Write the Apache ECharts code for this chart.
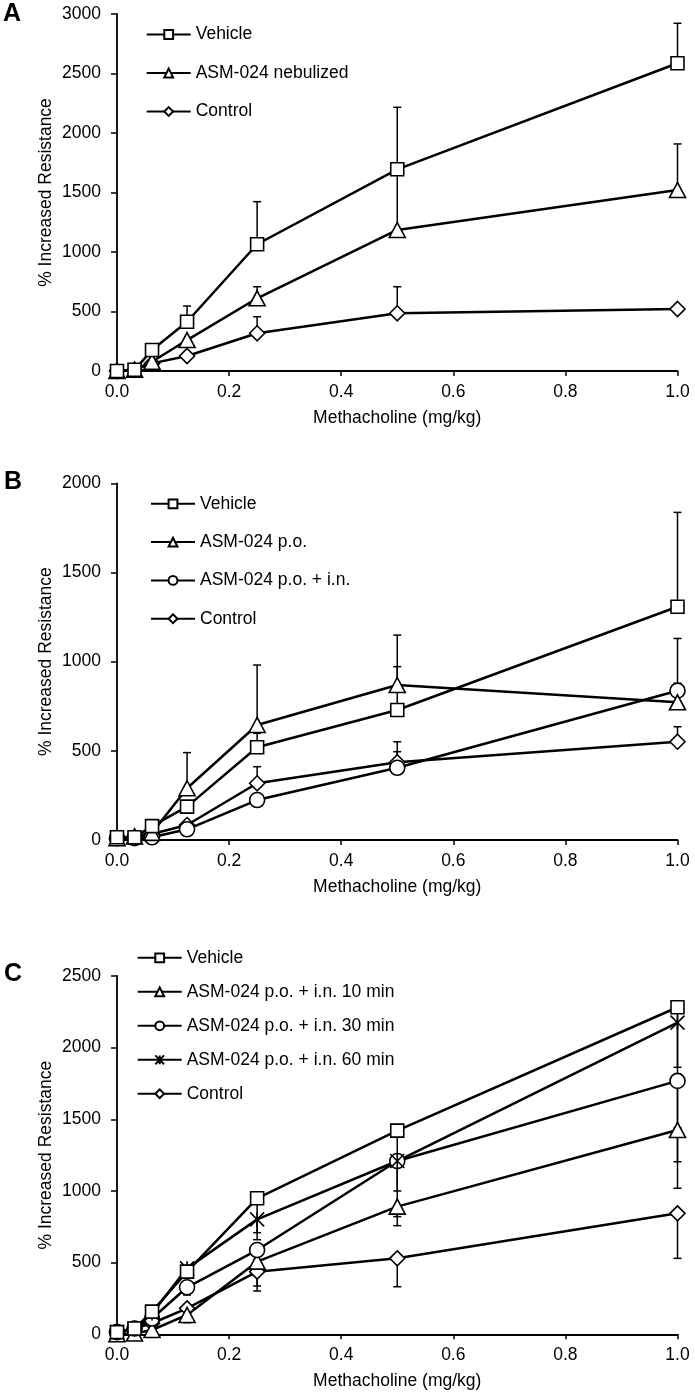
<!DOCTYPE html>
<html>
<head>
<meta charset="utf-8">
<script src="https://cdn.jsdelivr.net/npm/echarts@6/dist/echarts.min.js"></script>
<style>
html,body{margin:0;padding:0;background:#fff;}
#chart{width:695px;height:1399px;}
</style>
</head>
<body>
<div id="chart"></div>
<script>
// Methacholine doses (mg/kg)
const doses = [0, 0.03125, 0.0625, 0.125, 0.25, 0.5, 1.0];

// Panel A
const namesA = ['Vehicle', 'ASM-024 nebulized', 'Control'];
const vehicleA = [0, 10, 176, 414, 1065, 1695, 2586];
const vehicleA_err = [null, null, null, 546, 1423, 2216, 2922];
const nebulizedA = [0, 10, 78, 260, 611, 1185, 1521];
const nebulizedA_err = [null, null, null, null, 708, 1680, 1908];
const controlA = [0, 10, 64, 126, 317, 485, 521];
const controlA_err = [null, null, null, null, 456, 708, null];

// Panel B
const namesB = ['Vehicle', 'ASM-024 p.o.', 'ASM-024 p.o. + i.n.', 'Control'];
const vehicleB = [15, 15, 78, 187, 520, 729, 1308];
const vehicleB_err = [null, null, null, null, 598, 972, 1837];
const poB = [10, 20, 40, 290, 645, 869, 772];
const poB_err = [null, null, null, 490, 981, 1149, 879];
const poinB = [10, 10, 15, 60, 224, 405, 837];
const poinB_err = [null, null, null, null, null, 495, 1130];
const controlB = [10, 15, 34, 84, 318, 436, 551];
const controlB_err = [null, null, null, null, 411, 551, 635];

// Panel C
const namesC = ['Vehicle', 'ASM-024 p.o. + i.n. 10 min', 'ASM-024 p.o. + i.n. 30 min', 'ASM-024 p.o. + i.n. 60 min', 'Control'];
const vehicleC = [15, 40, 158, 437, 949, 1421, 2282];
const vehicleC_err = [null, null, null, null, 709, 1230, 1863];
const min10C = [0, 5, 30, 135, 507, 891, 1426];
const min10C_err = [null, null, null, 81, 337, 758, 1019];
const min30C = [15, 40, 110, 328, 588, 1209, 1768];
const min30C_err = [null, null, null, 274, 520, 1000, 1440];
const min60C = [15, 40, 146, 460, 802, 1209, 2175];
const min60C_err = [null, null, null, null, 660, 821, 1204];
const controlC = [15, 40, 77, 181, 437, 530, 844];
const controlC_err = [null, null, null, null, 302, 332, 530];

// Axis settings
const xMin = 0, xMax = 1.0, xInterval = 0.2;
const yMaxA = 3000, yMaxB = 2000, yMaxC = 2500, yInterval = 500;

const FONT = "'Liberation Sans', Arial, sans-serif";
const FS = 17.5;
const STAR = 'path://M0,0L10,10M10,0L0,10M5,0L5,10';

const SYM = {
  square: {symbol: 'rect', size: 13},
  triangle: {symbol: 'triangle', size: [16, 15]},
  circle: {symbol: 'circle', size: 15},
  diamond: {symbol: 'diamond', size: [15, 15]},
  star: {symbol: STAR, size: 14}
};

function lineSeries(name, values, sym, idx) {
  return {
    type: 'line', name: name, xAxisIndex: idx, yAxisIndex: idx,
    data: doses.map((d, i) => [d, values[i]]),
    symbol: SYM[sym].symbol, symbolSize: SYM[sym].size, showSymbol: true,
    lineStyle: {color: '#000', width: 2.5},
    itemStyle: {color: '#fff', borderColor: '#000', borderWidth: 1.6},
    emphasis: {disabled: true}, z: 3, animation: false
  };
}

function errRender(params, api) {
  const x = api.value(0), y = api.value(1), e = api.value(2);
  const p0 = api.coord([x, y]);
  const p1 = api.coord([x, e]);
  const w = 4;
  return {
    type: 'group',
    children: [
      {type: 'line', shape: {x1: p0[0], y1: p0[1], x2: p1[0], y2: p1[1]}, style: {stroke: '#000', lineWidth: 1.5}},
      {type: 'line', shape: {x1: p1[0] - w, y1: p1[1], x2: p1[0] + w, y2: p1[1]}, style: {stroke: '#000', lineWidth: 1.5}}
    ]
  };
}

function errSeries(id, values, errs, idx) {
  const data = [];
  doses.forEach((d, i) => { if (errs[i] !== null) data.push([d, values[i], errs[i]]); });
  return {
    type: 'custom', name: id, xAxisIndex: idx, yAxisIndex: idx,
    renderItem: errRender, data: data, encode: {x: 0, y: [1, 2]}, z: 1,
    silent: true, animation: false
  };
}

const grids = [
  {left: 117, right: 17.5, top: 14, height: 357},
  {left: 117, right: 17.5, top: 483.3, height: 356.7},
  {left: 117, right: 17.5, top: 976, height: 358.3}
];
const yMaxes = [yMaxA, yMaxB, yMaxC];

const xAxes = grids.map((g, i) => ({
  type: 'value', gridIndex: i, min: xMin, max: xMax, interval: xInterval,
  name: 'Methacholine (mg/kg)', nameLocation: 'middle', nameGap: 38, nameMoveOverlap: false,
  nameTextStyle: {fontSize: FS, color: '#000', fontFamily: FONT},
  axisLine: {show: true, onZero: false, lineStyle: {color: '#000', width: 1.8}},
  axisTick: {show: true, length: 5, lineStyle: {color: '#000', width: 1.5}},
  axisLabel: {fontSize: FS, color: '#000', fontFamily: FONT, margin: 12, formatter: v => v.toFixed(1)},
  splitLine: {show: false}
}));

const yAxes = grids.map((g, i) => ({
  type: 'value', gridIndex: i, min: 0, max: yMaxes[i], interval: yInterval,
  name: '% Increased Resistance', nameLocation: 'middle', nameGap: 62, nameMoveOverlap: false,
  nameTextStyle: {fontSize: FS, color: '#000', fontFamily: FONT},
  axisLine: {show: true, lineStyle: {color: '#000', width: 1.8}},
  axisTick: {show: true, length: 6, lineStyle: {color: '#000', width: 1.5}},
  axisLabel: {fontSize: FS, color: '#000', fontFamily: FONT, margin: 16, formatter: v => String(v)},
  splitLine: {show: false}
}));

function legendCfg(names, left, top, gap) {
  return {
    data: names, orient: 'vertical', left: left, top: top, padding: 0,
    itemWidth: 44, itemHeight: 11, itemGap: gap, selectedMode: false,
    textStyle: {fontSize: FS, color: '#000', fontFamily: FONT, lineHeight: 17}
  };
}

const series = [
  errSeries('eA1', vehicleA, vehicleA_err, 0),
  errSeries('eA2', nebulizedA, nebulizedA_err, 0),
  errSeries('eA3', controlA, controlA_err, 0),
  lineSeries(namesA[2], controlA, 'diamond', 0),
  lineSeries(namesA[1], nebulizedA, 'triangle', 0),
  lineSeries(namesA[0], vehicleA, 'square', 0),

  errSeries('eB1', vehicleB, vehicleB_err, 1),
  errSeries('eB2', poB, poB_err, 1),
  errSeries('eB3', poinB, poinB_err, 1),
  errSeries('eB4', controlB, controlB_err, 1),
  lineSeries(namesB[3], controlB, 'diamond', 1),
  lineSeries(namesB[2], poinB, 'circle', 1),
  lineSeries(namesB[1], poB, 'triangle', 1),
  lineSeries(namesB[0], vehicleB, 'square', 1),

  errSeries('eC1', vehicleC, vehicleC_err, 2),
  errSeries('eC2', min10C, min10C_err, 2),
  errSeries('eC3', min30C, min30C_err, 2),
  errSeries('eC4', min60C, min60C_err, 2),
  errSeries('eC5', controlC, controlC_err, 2),
  lineSeries(namesC[4], controlC, 'diamond', 2),
  lineSeries(namesC[1], min10C, 'triangle', 2),
  lineSeries(namesC[2], min30C, 'circle', 2),
  lineSeries(namesC[3], min60C, 'star', 2),
  lineSeries(namesC[0], vehicleC, 'square', 2)
];

const chart = echarts.init(document.getElementById('chart'), null, {renderer: 'canvas'});
chart.setOption({
  animation: false,
  backgroundColor: '#fff',
  title: [
    {text: 'A', left: 3, top: 2, padding: 0, textStyle: {fontSize: 25, fontWeight: 'bold', color: '#000', fontFamily: FONT}},
    {text: 'B', left: 4, top: 470, padding: 0, textStyle: {fontSize: 25, fontWeight: 'bold', color: '#000', fontFamily: FONT}},
    {text: 'C', left: 4, top: 962, padding: 0, textStyle: {fontSize: 25, fontWeight: 'bold', color: '#000', fontFamily: FONT}}
  ],
  legend: [
    legendCfg(namesA, 145.7, 25.5, 20.5),
    legendCfg(namesB, 150, 494.8, 20.3),
    legendCfg(namesC, 136.7, 948.8, 16)
  ],
  grid: grids,
  xAxis: xAxes,
  yAxis: yAxes,
  series: series
});
</script>
</body>
</html>
